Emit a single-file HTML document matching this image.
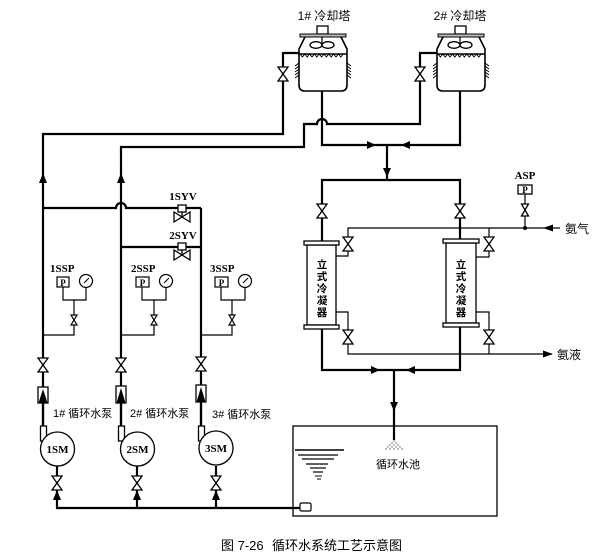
<!DOCTYPE html>
<html><head><meta charset="utf-8"><style>
html,body{margin:0;padding:0;background:#fff;}
svg{display:block;}
.cj{font-family:"Liberation Sans","Noto Sans CJK SC",sans-serif;}
.sf{font-family:"Liberation Serif",serif;font-weight:bold;}
</style></head><body>
<svg width="611" height="558" viewBox="0 0 611 558" xmlns="http://www.w3.org/2000/svg">
<defs>
<g id="tower">
  <rect x="317" y="26" width="11" height="8" fill="#fff" stroke="#000" stroke-width="1.3"/>
  <rect x="300" y="34" width="46" height="3" fill="#bbb" stroke="#000" stroke-width="1"/>
  <path d="M305,37 L299,49 V85 Q299,91 305,91 H341 Q347,91 347,85 V49 L341,37" fill="none" stroke="#000" stroke-width="1.6"/>
  <line x1="322" y1="37" x2="322" y2="45" stroke="#000" stroke-width="1.2"/>
  <ellipse cx="316" cy="45" rx="6" ry="3.3" fill="none" stroke="#000" stroke-width="1.3"/>
  <ellipse cx="328" cy="45" rx="6" ry="3.3" fill="none" stroke="#000" stroke-width="1.3"/>
  <line x1="299" y1="54" x2="347" y2="54" stroke="#000" stroke-width="1.4"/>
  <path d="M300,54 l2.4,3 l2.4,-3 l2.4,3 l2.4,-3 l2.4,3 l2.4,-3 l2.4,3 l2.4,-3 l2.4,3 l2.4,-3 l2.4,3 l2.4,-3 l2.4,3 l2.4,-3 l2.4,3 l2.4,-3 l2.4,3 l2.4,-3" fill="none" stroke="#000" stroke-width="1"/>
  <path d="M295,66 l4,-3 M295,69 l4,-3 M295,72 l4,-3 M295,75 l4,-3 M295,78 l4,-3 M347,63 l4,3 M347,66 l4,3 M347,69 l4,3 M347,72 l4,3 M347,75 l4,3" stroke="#000" stroke-width="1"/>
</g>
</defs>

<!-- cooling towers -->
<use href="#tower"/>
<use href="#tower" x="138"/>
<text x="324" y="20" class="cj" font-size="12" text-anchor="middle">1# 冷却塔</text>
<text x="460" y="20" class="cj" font-size="12" text-anchor="middle">2# 冷却塔</text>

<!-- main pipes -->
<g stroke="#000" fill="none" stroke-width="2.2">
  <path d="M43,427 V134 H283 V53 H299"/>
  <path d="M121,427 V147 H304 V124 H317 A5,5 0 0 1 327,124 H420 V53 H437"/>
  <path d="M201,427 V208"/>
  <path d="M43,208 H116 A5,5 0 0 1 126,208 H201"/>
  <path d="M121,247 H201"/>
  <path d="M322,91 V145 H460 V91"/>
  <path d="M387,145 V180"/>
  <path d="M322,241 V180 H460 V239"/>
  <path d="M322,329 V370 H460 V327"/>
  <path d="M394,370 V440"/>
  <path d="M57,466 V508 H300"/>
  <path d="M137,466 V508"/>
  <path d="M216,466 V508"/>
</g>

<!-- thin ammonia lines -->
<g stroke="#000" fill="none" stroke-width="1.2">
  <path d="M560,228 H348 V256 H336"/>
  <path d="M489,228 V257 H476"/>
  <path d="M336,312 H348 V354 H552"/>
  <path d="M476,312 H489 V354"/>
  <path d="M525,193 V228"/>
</g>
<circle cx="525" cy="228" r="2" fill="#000"/>
<polygon points="543,228 553,224.5 553,231.5" fill="#000"/>
<polygon points="553,354 543,350.5 543,357.5" fill="#000"/>
<text x="565" y="233" class="cj" font-size="12">氨气</text>
<text x="557" y="359" class="cj" font-size="12">氨液</text>
<text x="525" y="179" class="sf" font-size="11" text-anchor="middle">ASP</text>
<rect x="518" y="185" width="14" height="9" fill="#fff" stroke="#000" stroke-width="1.3"/>
<text x="525" y="193" class="sf" font-size="9" text-anchor="middle">P</text>

<!-- condensers -->
<g stroke="#000" stroke-width="1.3" fill="#fff">
  <rect x="307" y="245" width="29" height="80"/>
  <rect x="304" y="241" width="35" height="4"/>
  <rect x="304" y="325" width="35" height="4"/>
  <rect x="446" y="243" width="30" height="80"/>
  <rect x="443" y="239" width="36" height="4"/>
  <rect x="443" y="323" width="36" height="4"/>
</g>
<g class="cj" font-size="10.5" text-anchor="middle" font-weight="bold">
  <text x="322" y="268">立</text><text x="322" y="280">式</text><text x="322" y="292">冷</text><text x="322" y="304">凝</text><text x="322" y="316">器</text>
  <text x="461" y="268">立</text><text x="461" y="280">式</text><text x="461" y="292">冷</text><text x="461" y="304">凝</text><text x="461" y="316">器</text>
</g>

<!-- arrows on main pipes -->
<g fill="#000">
  <polygon points="376,145 367,141 367,149"/>
  <polygon points="401,145 410,141 410,149"/>
  <polygon points="387,177 383,168 391,168"/>
  <polygon points="380,370 371,366 371,374"/>
  <polygon points="406,370 415,366 415,374"/>
  <polygon points="394,411 390,402 398,402"/>
  <polygon points="43,173 39,183 47,183"/>
  <polygon points="121,173 117,183 125,183"/>
  <polygon points="57,490 53,500 61,500"/>
  <polygon points="137,490 133,500 141,500"/>
  <polygon points="216,490 212,500 220,500"/>
</g>

<!-- valves (vertical bowties) -->
<g fill="#fff" stroke="#000" stroke-width="1.3">
  <path d="M278,67 H288 L278,81 H288 Z"/>
  <path d="M415,67 H425 L415,81 H425 Z"/>
  <path d="M317,204 H327 L317,218 H327 Z"/>
  <path d="M455,204 H465 L455,218 H465 Z"/>
  <path d="M343,237 H353 L343,251 H353 Z"/>
  <path d="M484,237 H494 L484,251 H494 Z"/>
  <path d="M343,330 H353 L343,344 H353 Z"/>
  <path d="M484,330 H494 L484,344 H494 Z"/>
  <path d="M38,358 H48 L38,372 H48 Z"/>
  <path d="M116,358 H126 L116,372 H126 Z"/>
  <path d="M196,357 H206 L196,371 H206 Z"/>
  <path d="M52,476 H62 L52,490 H62 Z"/>
  <path d="M132,476 H142 L132,490 H142 Z"/>
  <path d="M211,476 H221 L211,490 H221 Z"/>
  <path d="M521.5,204 H528.5 L521.5,216 H528.5 Z"/>
</g>

<!-- solenoid valves -->
<g stroke="#000" stroke-width="1.3" fill="#fff">
  <line x1="182" y1="212" x2="182" y2="217"/>
  <rect x="178" y="205" width="8" height="7"/>
  <path d="M174,212 V222 L182,217 Z M190,212 V222 L182,217 Z"/>
  <line x1="182" y1="250" x2="182" y2="255"/>
  <rect x="178" y="243" width="8" height="7"/>
  <path d="M174,250 V260 L182,255 Z M190,250 V260 L182,255 Z"/>
</g>
<text x="183" y="200" class="sf" font-size="11" text-anchor="middle">1SYV</text>
<text x="183" y="239" class="sf" font-size="11" text-anchor="middle">2SYV</text>

<!-- pressure instruments -->
<g stroke="#000" stroke-width="1.2" fill="none">
  <path d="M63,287 V300 H86 V287 M74,300 V335 H43"/>
  <path d="M142,287 V300 H166 V287 M154,300 V335 H121"/>
  <path d="M221,287 V300 H245 V287 M232,300 V335 H201"/>
</g>
<g stroke="#000" stroke-width="1.2" fill="#fff">
  <rect x="57" y="277" width="12" height="10"/>
  <rect x="136" y="277" width="13" height="10"/>
  <rect x="215" y="277" width="13" height="10"/>
  <circle cx="86" cy="281" r="6.5"/>
  <circle cx="166" cy="281" r="6.5"/>
  <circle cx="245" cy="281" r="6.5"/>
  <path d="M71,315 H77 L71,325 H77 Z"/>
  <path d="M151,315 H157 L151,325 H157 Z"/>
  <path d="M229,315 H235 L229,325 H235 Z"/>
</g>
<g stroke="#000" stroke-width="1.1">
  <line x1="84" y1="283" x2="89" y2="278"/>
  <line x1="164" y1="283" x2="169" y2="278"/>
  <line x1="243" y1="283" x2="248" y2="278"/>
</g>
<g class="sf" font-size="9" text-anchor="middle">
  <text x="63" y="286">P</text><text x="142.5" y="286">P</text><text x="221.5" y="286">P</text>
</g>
<g class="sf" font-size="11">
  <text x="50" y="272">1SSP</text>
  <text x="131" y="272">2SSP</text>
  <text x="210" y="272">3SSP</text>
</g>

<!-- check valves on risers -->
<g stroke="#000" stroke-width="1.3" fill="#fff">
  <rect x="38" y="387" width="10" height="16"/>
  <rect x="116" y="386" width="10" height="17"/>
  <rect x="196" y="385" width="10" height="17"/>
</g>
<g fill="#000">
  <polygon points="43,389 38.5,403 47.5,403"/>
  <polygon points="121,388 116.5,403 125.5,403"/>
  <polygon points="201,387 196.5,402 205.5,402"/>
</g>
<g stroke="#000" stroke-width="2.2">
  <line x1="43" y1="403" x2="43" y2="427"/>
  <line x1="121" y1="403" x2="121" y2="427"/>
  <line x1="201" y1="402" x2="201" y2="427"/>
</g>

<!-- pumps -->
<g stroke="#000" stroke-width="1.3" fill="#fff">
  <rect x="40.5" y="426" width="6" height="15"/>
  <rect x="118.5" y="426" width="6" height="15"/>
  <rect x="198.5" y="426" width="6" height="15"/>
  <circle cx="57.5" cy="449" r="17"/>
  <circle cx="137.5" cy="449" r="17"/>
  <circle cx="216" cy="448" r="17"/>
</g>
<g class="sf" font-size="11" text-anchor="middle">
  <text x="57.5" y="453">1SM</text>
  <text x="137.5" y="453">2SM</text>
  <text x="216" y="452">3SM</text>
</g>
<g class="cj" font-size="11">
  <text x="53" y="417">1# 循环水泵</text>
  <text x="130" y="417">2# 循环水泵</text>
  <text x="212" y="418">3# 循环水泵</text>
</g>

<!-- pool -->
<rect x="293" y="426" width="204" height="90" fill="none" stroke="#000" stroke-width="1.3"/>
<rect x="300" y="503" width="11" height="8" rx="1.5" fill="#fff" stroke="#000" stroke-width="1.2"/>
<g stroke="#000">
  <line x1="295" y1="450" x2="344" y2="450" stroke-width="1.6"/>
  <line x1="298" y1="455" x2="338" y2="455" stroke-width="1.3"/>
  <line x1="302" y1="459" x2="334" y2="459" stroke-width="1.3"/>
  <line x1="306" y1="464" x2="328" y2="464" stroke-width="1.3"/>
  <line x1="310" y1="468" x2="326" y2="468" stroke-width="1.2"/>
  <line x1="313" y1="472" x2="323" y2="472" stroke-width="1.2"/>
  <line x1="315" y1="476" x2="322" y2="476" stroke-width="1"/>
  <line x1="317" y1="479" x2="321" y2="479" stroke-width="1"/>
</g>
<g fill="#555">
  <circle cx="394" cy="441" r="0.7"/>
  <circle cx="392" cy="443" r="0.7"/><circle cx="396" cy="443" r="0.7"/>
  <circle cx="390" cy="445" r="0.7"/><circle cx="394" cy="445" r="0.7"/><circle cx="398" cy="445" r="0.7"/>
  <circle cx="388" cy="447" r="0.7"/><circle cx="392" cy="447" r="0.7"/><circle cx="396" cy="447" r="0.7"/><circle cx="400" cy="447" r="0.7"/>
  <circle cx="386" cy="449" r="0.7"/><circle cx="390" cy="449" r="0.7"/><circle cx="394" cy="449" r="0.7"/><circle cx="398" cy="449" r="0.7"/><circle cx="402" cy="449" r="0.7"/>
</g>
<text x="376" y="468" class="cj" font-size="11">循环水池</text>

<!-- caption -->
<text x="221" y="550" class="cj" font-size="13">图 7-26</text>
<text x="272" y="550" class="cj" font-size="13">循环水系统工艺示意图</text>
</svg>
</body></html>
